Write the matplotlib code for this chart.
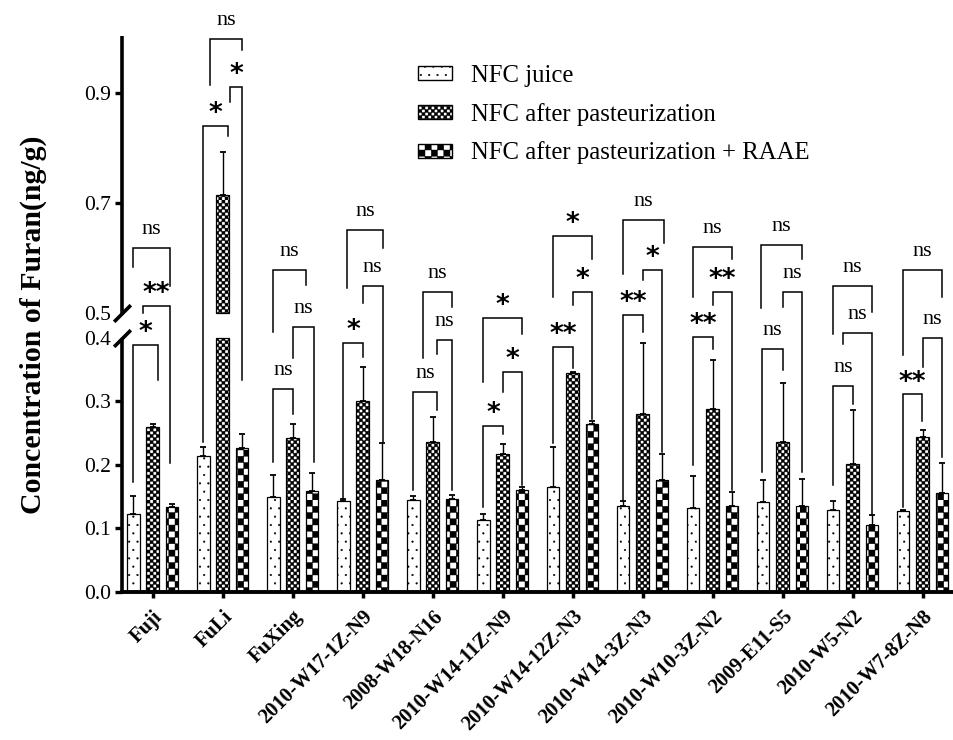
import numpy as np
import matplotlib
matplotlib.use("Agg")
import matplotlib.pyplot as plt
import matplotlib.hatch as mhatch
from matplotlib.path import Path
from matplotlib.patches import Patch
from matplotlib.ticker import FormatStrFormatter

# ---- data ----
groups = ["Fuji", "FuLi", "FuXing", "2010-W17-1Z-N9", "2008-W18-N16",
          "2010-W14-11Z-N9", "2010-W14-12Z-N3", "2010-W14-3Z-N3",
          "2010-W10-3Z-N2", "2009-E11-S5", "2010-W5-N2", "2010-W7-8Z-N8"]

juice = [0.123, 0.214, 0.150, 0.144, 0.145, 0.114, 0.166, 0.136, 0.133, 0.142, 0.129, 0.127]
juice_err = [0.028, 0.014, 0.034, 0.002, 0.006, 0.009, 0.062, 0.007, 0.050, 0.035, 0.015, 0.002]
past = [0.259, 0.715, 0.243, 0.301, 0.236, 0.217, 0.345, 0.280, 0.288, 0.236, 0.202, 0.244]
past_err = [0.006, 0.078, 0.021, 0.053, 0.040, 0.016, 0.002, 0.112, 0.077, 0.093, 0.084, 0.011]
raae = [0.134, 0.227, 0.159, 0.177, 0.146, 0.161, 0.264, 0.177, 0.136, 0.135, 0.106, 0.156]
raae_err = [0.004, 0.022, 0.028, 0.058, 0.007, 0.004, 0.005, 0.040, 0.022, 0.043, 0.016, 0.047]

series_labels = ["NFC juice", "NFC after pasteurization", "NFC after pasteurization + RAAE"]

# significance brackets: per group [juice-past, past-RAAE, juice-RAAE]
sig_labels = [
    ["*", "**", "ns"], ["*", "*", "ns"], ["ns", "ns", "ns"], ["*", "ns", "ns"],
    ["ns", "ns", "ns"], ["*", "*", "*"], ["**", "*", "*"], ["**", "*", "ns"],
    ["**", "**", "ns"], ["ns", "ns", "ns"], ["ns", "ns", "ns"], ["**", "ns", "ns"],
]
bracket_tops = [
    [0.389, 0.513, 0.619], [0.840, 0.911, 0.999], [0.319, 0.445, 0.579],
    [0.392, 0.549, 0.652], [0.315, 0.397, 0.539], [0.261, 0.346, 0.481],
    [0.386, 0.539, 0.640], [0.492, 0.579, 0.670], [0.404, 0.539, 0.621],
    [0.383, 0.539, 0.624], [0.324, 0.420, 0.549], [0.311, 0.400, 0.579],
]
left_ends = [
    [0.173, 0.499, 0.584], [0.236, 0.884, 0.915], [0.205, 0.368, 0.424],
    [0.147, 0.518, 0.545], [0.160, 0.375, 0.368], [0.134, 0.315, 0.331],
    [0.234, 0.515, 0.530], [0.144, 0.561, 0.572], [0.200, 0.515, 0.529],
    [0.189, 0.511, 0.509], [0.168, 0.390, 0.415], [0.134, 0.355, 0.373],
]
right_ends = [
    [0.333, 0.203, 0.550], [0.822, 0.333, 0.978], [0.281, 0.205, 0.551],
    [0.370, 0.236, 0.618], [0.287, 0.160, 0.511], [0.248, 0.168, 0.417],
    [0.353, 0.273, 0.598], [0.424, 0.220, 0.627], [0.383, 0.160, 0.599],
    [0.349, 0.189, 0.599], [0.296, 0.123, 0.502], [0.269, 0.213, 0.529],
]
# leg positions in bar slots (-1 juice, 0 pasteurized, 1 RAAE)
left_slots = [
    [-1, -0.5, -1], [-1, 0.4, -0.65], [-1, 0, -1], [-1, 0, -0.8],
    [-1, 0.25, -0.5], [-1, 0, -1], [-1, 0, -1], [-1, 0, -1],
    [-1, 0, -1], [-1.05, 0, -1.1], [-1, -0.5, -1], [-1, 0, -1],
]
right_slots = [
    [0.3, 0.9, 0.9], [0.3, 1, 1], [0, 1.1, 0.7], [0, 1.05, 1.05],
    [0.25, 1, 1], [0, 1, 1], [0, 1, 1.03], [0, 1, 1.1],
    [0, 1, 1], [0, 1, 1], [0, 1, 1], [-0.05, 1, 1],
]

# ---- checkerboard hatch (replaces the star hatch) ----
class CheckerHatch(mhatch.HatchPatternBase):
    def __init__(self, hatch, density):
        count = hatch.count("*")
        self.num_cells = {0: 0, 1: 16}.get(count, 32)
        n = self.num_cells
        self.num_vertices = (n * n // 2) * 5

    def set_vertices_and_codes(self, vertices, codes):
        n = self.num_cells
        s = 1.0 / n
        k = 0
        for i in range(n):
            for j in range(n):
                if (i + j) % 2 == 0:
                    x0, y0 = i * s, j * s
                    vertices[k:k + 5] = [(x0, y0), (x0 + s, y0), (x0 + s, y0 + s),
                                         (x0, y0 + s), (x0, y0)]
                    codes[k:k + 5] = [Path.MOVETO, Path.LINETO, Path.LINETO,
                                      Path.LINETO, Path.CLOSEPOLY]
                    k += 5

mhatch._hatch_types = [t for t in mhatch._hatch_types if t is not mhatch.Stars] + [CheckerHatch]

plt.rcParams["font.family"] = "Liberation Serif"
plt.rcParams["hatch.linewidth"] = 0.3

# ---- broken y axis as a piecewise scale ----
BREAK_LOW, BREAK_HIGH = 0.4, 0.5
GAP_SCALE = 0.389
UPPER_SCALE = 0.866
GAP_TOP = BREAK_LOW + (BREAK_HIGH - BREAK_LOW) * GAP_SCALE

def fwd(v):
    v = np.asarray(v, dtype=float)
    return np.where(v <= BREAK_LOW, v,
                    np.where(v <= BREAK_HIGH, BREAK_LOW + (v - BREAK_LOW) * GAP_SCALE,
                             GAP_TOP + (v - BREAK_HIGH) * UPPER_SCALE))

def inv(u):
    u = np.asarray(u, dtype=float)
    return np.where(u <= BREAK_LOW, u,
                    np.where(u <= GAP_TOP, BREAK_LOW + (u - BREAK_LOW) / GAP_SCALE,
                             BREAK_HIGH + (u - GAP_TOP) / UPPER_SCALE))

fig = plt.figure(figsize=(9.54, 7.4), dpi=100)
ax = fig.add_axes([0.1279, 0.2, 0.8721, 0.7514])
ax.set_yscale("function", functions=(fwd, inv))

x = np.arange(len(groups))
BAR_W = 0.176
STEP = 0.274
hatches = ["..", "**", "*"]
series = [(juice, juice_err), (past, past_err), (raae, raae_err)]

for k, (vals, errs) in enumerate(series):
    vals = np.array(vals)
    errs = np.array(errs)
    xs = x + (k - 1) * STEP
    ax.bar(xs, np.minimum(vals, BREAK_LOW), BAR_W, color="white", edgecolor="black",
           linewidth=0.9, hatch=hatches[k], zorder=2)
    hi = vals > BREAK_HIGH
    if hi.any():
        ax.bar(xs[hi], vals[hi] - BREAK_HIGH, BAR_W, bottom=BREAK_HIGH, color="white",
               edgecolor="black", linewidth=0.9, hatch=hatches[k], zorder=2)
    ax.errorbar(xs, vals, yerr=[np.zeros_like(errs), errs], fmt="none", ecolor="black",
                elinewidth=1.0, capsize=2.3, capthick=1.3, zorder=1)

# brackets
for g in range(len(groups)):
    for b in range(3):
        xl = x[g] + left_slots[g][b] * STEP
        xr = x[g] + right_slots[g][b] * STEP
        top = bracket_tops[g][b]
        ax.plot([xl, xl, xr, xr], [left_ends[g][b], top, top, right_ends[g][b]],
                color="black", lw=1.1, clip_on=False, solid_joinstyle="miter")
        lab = sig_labels[g][b]
        if lab == "ns":
            ax.annotate(lab, xy=((xl + xr) / 2, top), xytext=(0, 10), textcoords="offset points",
                        ha="center", va="baseline", fontsize=16, annotation_clip=False)
        else:
            ax.annotate(lab, xy=((xl + xr) / 2, top), xytext=(0, 3.5), textcoords="offset points",
                        ha="center", va="baseline", fontsize=19, fontweight="bold",
                        family="DejaVu Sans", annotation_clip=False)

ax.set_xlim(-0.436, 11.45)
ax.set_ylim(0, 1.004)

# axis styling
for side in ["top", "right", "left"]:
    ax.spines[side].set_visible(False)
ax.spines["bottom"].set_linewidth(2.8)
ytr = ax.get_yaxis_transform()
ax.plot([0, 0], [0, BREAK_LOW], transform=ytr, color="black", lw=2.6, clip_on=False,
        solid_capstyle="butt")
ax.plot([0, 0], [BREAK_HIGH, 1.004], transform=ytr, color="black", lw=2.6, clip_on=False,
        solid_capstyle="butt")
ax.plot([0, 0], [BREAK_LOW, BREAK_HIGH], transform=ytr, marker=[(-1, -1), (1, 1)],
        markersize=12, mew=2.6, linestyle="none", color="black", clip_on=False)

ax.set_yticks([0.0, 0.1, 0.2, 0.3, 0.4, 0.5, 0.7, 0.9])
ax.yaxis.set_major_formatter(FormatStrFormatter("%.1f"))
ax.tick_params(axis="y", direction="out", length=5, width=2.4, labelsize=15.5, pad=3)
yt = ax.yaxis.get_major_ticks()
yt[4].tick1line.set_visible(False)
yt[5].tick1line.set_visible(False)

ax.set_xticks(x)
ax.set_xticklabels(groups, rotation=45, ha="right", rotation_mode="anchor",
                   fontweight="bold", fontsize=14.8)
ax.tick_params(axis="x", direction="out", length=4, width=2.5, pad=6.5)

ax.set_ylabel("Concentration of Furan(ng/g)", fontsize=21.5, fontweight="bold")
ax.yaxis.set_label_coords(-0.09, 0.48)

handles = [Patch(facecolor="white", edgecolor="black", linewidth=1.0, hatch=h) for h in hatches]
ax.legend(handles, series_labels, loc="upper left", bbox_to_anchor=(0.356, 0.948),
          frameon=False, fontsize=17.8, handlelength=1.35, handleheight=0.47,
          handletextpad=0.8, labelspacing=0.64, borderpad=0, borderaxespad=0)

fig.savefig("out.png", dpi=100)
